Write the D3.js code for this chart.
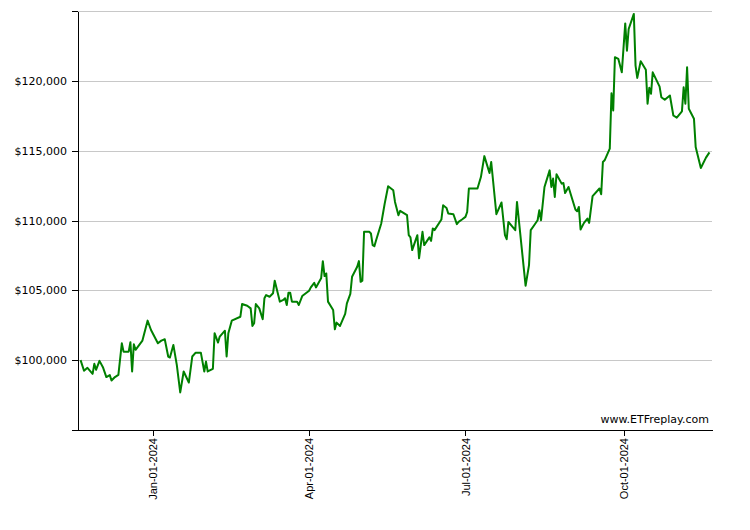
<!DOCTYPE html>
<html>
<head>
<meta charset="utf-8">
<script src="https://cdn.jsdelivr.net/npm/d3@7"></script>
<style>
  body { margin: 0; background: #fff; }
  .axis path, .axis line { stroke: #000; shape-rendering: crispEdges; }
  .axis.y text { font-family: "DejaVu Sans", Verdana, sans-serif; font-size: 11px; fill: #000; }
  .axis.x text { font-family: "Liberation Sans", Arial, sans-serif; font-size: 11px; fill: #000; }
  .grid line { stroke: #c8c8c8; shape-rendering: crispEdges; }
  .grid path { stroke: none; }
  .source { font-family: "DejaVu Sans", Verdana, sans-serif; font-size: 11px; fill: #000; }
</style>
</head>
<body>
<svg id="chart" width="750" height="530"></svg>
<script>
// values
const dates = [
  "2023-11-20","2023-11-22","2023-11-24","2023-11-27","2023-11-28","2023-11-29","2023-12-01","2023-12-03",
  "2023-12-05","2023-12-07","2023-12-08","2023-12-10","2023-12-12","2023-12-14","2023-12-15","2023-12-18",
  "2023-12-19","2023-12-20","2023-12-21","2023-12-22","2023-12-26","2023-12-29","2023-12-31",
  "2024-01-04","2024-01-06","2024-01-08","2024-01-10","2024-01-11","2024-01-13","2024-01-15","2024-01-17",
  "2024-01-19","2024-01-22","2024-01-24","2024-01-26","2024-01-29","2024-01-31",
  "2024-02-01","2024-02-02","2024-02-05","2024-02-06","2024-02-08","2024-02-09","2024-02-12","2024-02-13",
  "2024-02-14","2024-02-16","2024-02-21","2024-02-22","2024-02-25","2024-02-27","2024-02-28","2024-02-29",
  "2024-03-01","2024-03-03","2024-03-05","2024-03-06","2024-03-07","2024-03-09","2024-03-11","2024-03-12",
  "2024-03-15","2024-03-17","2024-03-18","2024-03-19","2024-03-20","2024-03-21","2024-03-22","2024-03-25",
  "2024-03-26","2024-03-28",
  "2024-04-01","2024-04-02","2024-04-04","2024-04-05","2024-04-08","2024-04-09","2024-04-10","2024-04-11",
  "2024-04-12","2024-04-15","2024-04-16","2024-04-17","2024-04-19","2024-04-22","2024-04-23","2024-04-25",
  "2024-04-26","2024-04-29","2024-04-30",
  "2024-05-01","2024-05-02","2024-05-03","2024-05-06","2024-05-07","2024-05-08","2024-05-09","2024-05-10",
  "2024-05-13","2024-05-14","2024-05-15","2024-05-17","2024-05-20","2024-05-21","2024-05-23","2024-05-24",
  "2024-05-28","2024-05-29","2024-05-30","2024-05-31",
  "2024-06-03","2024-06-04","2024-06-06","2024-06-07","2024-06-10","2024-06-11","2024-06-12","2024-06-13",
  "2024-06-17","2024-06-18","2024-06-20","2024-06-21","2024-06-24","2024-06-26","2024-06-27","2024-06-29",
  "2024-07-01","2024-07-02","2024-07-03","2024-07-08","2024-07-10","2024-07-12","2024-07-15","2024-07-16",
  "2024-07-19","2024-07-22","2024-07-24","2024-07-25","2024-07-26","2024-07-30","2024-07-31",
  "2024-08-05","2024-08-07","2024-08-08","2024-08-10","2024-08-12","2024-08-13","2024-08-14","2024-08-16",
  "2024-08-19","2024-08-20","2024-08-21","2024-08-22","2024-08-23","2024-08-26","2024-08-27","2024-08-28",
  "2024-08-30",
  "2024-09-03","2024-09-04","2024-09-05","2024-09-06","2024-09-08","2024-09-10","2024-09-11","2024-09-13",
  "2024-09-17","2024-09-18","2024-09-19","2024-09-20","2024-09-23","2024-09-24","2024-09-25","2024-09-26",
  "2024-09-28","2024-09-30",
  "2024-10-02","2024-10-03","2024-10-04","2024-10-07","2024-10-08","2024-10-09","2024-10-11","2024-10-14",
  "2024-10-15","2024-10-16","2024-10-17","2024-10-18","2024-10-22","2024-10-23","2024-10-25","2024-10-28",
  "2024-10-30",
  "2024-11-01","2024-11-04","2024-11-05","2024-11-06","2024-11-07","2024-11-08","2024-11-11","2024-11-12",
  "2024-11-15","2024-11-18","2024-11-20"
];

const values = [
  100000, 99240, 99450, 99020, 99740, 99310, 99950, 99500,
  98790, 98930, 98540, 98790, 98950, 101210, 100610, 100610,
  101290, 99190, 101140, 100740, 101400, 102830, 102160,
  101210, 101400, 101500, 100260, 100190, 101090, 99660, 97690,
  99190, 98400, 100260, 100540, 100540, 99190,
  99900, 99190, 99380, 101930, 101260, 101690, 102110, 100260,
  101930, 102830, 103110, 104020, 103900, 103710, 102450, 102640,
  104020, 103710, 102930, 104430, 104660, 104540, 104790, 105690,
  104190, 104310, 104430, 103950, 104830, 104830, 104190, 104190,
  103950, 104590,
  104970, 105210, 105540, 105210, 105860, 107090, 106020, 106210,
  104190, 103590, 102210, 102690, 102450, 103310, 104070, 104740,
  105970, 106690, 107090,
  105610, 105690, 109190, 109190, 109070, 108240, 108160, 108590,
  109790, 110500, 111210, 112450, 112160, 111330, 110380, 110690,
  110380, 108950, 108790, 107880,
  108950, 107290, 109190, 108240, 108790, 108540, 109430, 109310,
  110070, 111090, 110900, 110500, 110450, 109740, 109900, 110070,
  110260, 110610, 112290, 112290, 113110, 114610, 113400, 114190,
  110450, 111290, 108950, 108660, 109900, 109310, 111330,
  105330, 106810, 109310, 109660, 110020, 110740, 110020, 112400,
  113590, 112400, 113000, 111690, 113310, 112640, 112690, 111970,
  112400,
  110790, 110660, 110970, 109360, 109830, 110140, 109830, 111740,
  112290, 111880, 114190, 114310, 115140, 119110, 117880, 121690,
  121570, 120610,
  124110, 122160, 123710, 124790, 121090, 120210, 121400, 120790,
  118360, 119500, 119070, 120610, 119590, 118830, 118640, 118950,
  117520,
  117360, 117810, 119540, 118360, 120970, 118000, 117290, 115260,
  113760, 114500, 114880
];

const xTicks = ["2024-01-01", "2024-04-01", "2024-07-01", "2024-10-01"];
const yTicks = [95000, 100000, 105000, 110000, 115000, 120000, 125000];
const xStart = "2023-11-18T12:00";
const xEnd = "2024-11-21T12:00";

const width = 750, height = 530;
let padding = {top: 11, right: 38, bottom: 100, left: 78};

const parse = d3.utcParse("%Y-%m-%d");
const parseT = d3.utcParse("%Y-%m-%dT%H:%M");
const data = dates.map((d, i) => ({date: parse(d), value: values[i]}));

const svg = d3.select("#chart");

let x = d3.scaleUtc()
  .domain([parseT(xStart), parseT(xEnd)])
  .range([padding.left, width - padding.right]);

let y = d3.scaleLinear()
  .domain([d3.min(yTicks), d3.max(yTicks)])
  .range([height - padding.bottom, padding.top]);

// gridlines
svg.append("g")
  .attr("class", "grid")
  .attr("transform", "translate(" + padding.left + ",0)")
  .call(d3.axisLeft(y)
    .tickValues(yTicks.slice(1))
    .tickSize(-(width - padding.left - padding.right))
    .tickFormat(""));

// Y axis
const money = d3.format("$,");
svg.append("g")
  .attr("class", "axis y")
  .attr("transform", "translate(" + padding.left + ",0)")
  .call(d3.axisLeft(y)
    .tickValues(yTicks)
    .tickSize(6)
    .tickSizeOuter(0)
    .tickPadding(5)
    .tickFormat((d, i) => (i == 0 || i == yTicks.length - 1) ? "" : money(d)));

// X axis
svg.append("g")
  .attr("class", "axis x")
  .attr("transform", "translate(0," + (height - padding.bottom) + ")")
  .call(d3.axisBottom(x)
    .tickValues(xTicks.map(parse))
    .tickSize(6)
    .tickSizeOuter(0)
    .tickFormat(d3.utcFormat("%b-%d-%Y")))
  .selectAll("text")
    .attr("transform", "rotate(-90)")
    .attr("x", -8)
    .attr("y", 0)
    .attr("dy", "0.35em")
    .style("text-anchor", "end");

// the line
svg.append("path")
  .datum(data)
  .attr("fill", "none")
  .attr("stroke", "#008000")
  .attr("stroke-width", 2)
  .attr("stroke-linejoin", "round")
  .attr("d", d3.line()
    .x(d => x(d.date))
    .y(d => y(d.value)));

svg.append("text")
  .attr("class", "source")
  .attr("x", width - padding.right - 3)
  .attr("y", height - padding.bottom - 7)
  .attr("text-anchor", "end")
  .text("www.ETFreplay.com");
</script>
</body>
</html>
